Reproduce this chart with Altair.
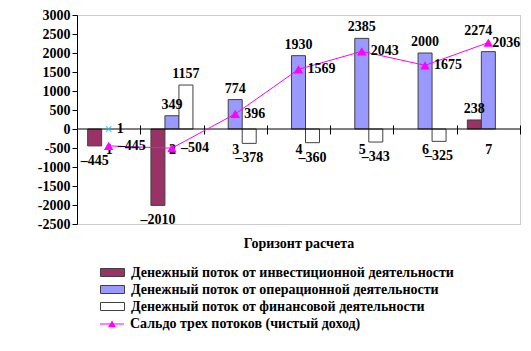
import altair as alt
import pandas as pd

periods = ["1", "2", "3", "4", "5", "6", "7"]
invest = [-445, -2010, 0, 0, 0, 0, 238]
operating = [0, 349, 774, 1930, 2385, 2000, 2036]
financing = [0, 1157, -378, -360, -343, -325, 0]
net = [-445, -504, 396, 1569, 2043, 1675, 2274]
marker_period = ["1"]
marker_value = [0]
marker_text = ["1"]
y_ticks = [-2500, -2000, -1500, -1000, -500, 0, 500, 1000, 1500, 2000, 2500, 3000]

s_inv = "Денежный поток от инвестиционной деятельности"
s_op = "Денежный поток от операционной деятельности"
s_fin = "Денежный поток от финансовой деятельности"
s_net = "Сальдо трех потоков (чистый доход)"
bar_series = [s_inv, s_op, s_fin]
bar_colors = ["#993366", "#9999FF", "#FFFFFF"]
net_color = "#FF00FF"

FONT = "Liberation Serif, DejaVu Serif, serif"


def lab(v):
    return ("–" + str(-v)) if v < 0 else str(v)


rows = []
for i, p in enumerate(periods):
    for s, vals in zip(bar_series, [invest, operating, financing]):
        if vals[i] != 0:
            rows.append({"period": p, "series": s, "value": vals[i], "label": lab(vals[i])})
bars_df = pd.DataFrame(rows)
net_df = pd.DataFrame({"period": periods, "value": net, "label": [lab(v) for v in net],
                       "series": [s_net] * len(periods)})
mark_df = pd.DataFrame({"period": marker_period, "value": marker_value, "label": marker_text})

x_scale = alt.Scale(domain=periods, paddingInner=0, paddingOuter=0)
y_scale = alt.Scale(domain=[-2500, 3000], nice=False, zero=False)
off_scale = alt.Scale(domain=bar_series, paddingOuter=0.76, paddingInner=0)

x_axis = alt.Axis(title="Горизонт расчета", labelAngle=0, offset=-99, tickBand="extent",
                  tickSize=9, domain=False, labelPadding=8, tickColor="#000000",
                  labelFont=FONT, labelFontSize=14, labelFontWeight="bold", labelColor="#000",
                  titleFont=FONT, titleFontSize=14, titleFontWeight="bold", titleColor="#000",
                  titlePadding=80)
y_axis = alt.Axis(values=y_ticks, title=None, grid=False, tickSize=5, labelPadding=2,
                  domainColor="#000", tickColor="#000", labelFont=FONT, labelFontSize=14,
                  labelFontWeight="bold", labelColor="#000", format="d",
                  labelExpr="replace(datum.label, '−', '-')")

X = alt.X("period:N", scale=x_scale, axis=x_axis, sort=periods)
Y = alt.Y("value:Q", scale=y_scale, axis=y_axis)
XO = alt.XOffset("series:N", scale=off_scale, sort=bar_series)

bars = alt.Chart(bars_df).mark_bar(stroke="#404040", strokeWidth=1).encode(
    x=X, y=Y, xOffset=XO,
    fill=alt.Fill("series:N", sort=bar_series,
                  scale=alt.Scale(domain=bar_series, range=bar_colors),
                  legend=alt.Legend(title=None, orient="none", legendX=27, legendY=249,
                                    symbolType="M-1.5,-0.5H1.5V0.5H-1.5Z", symbolSize=256,
                                    symbolStrokeColor="#404040", symbolStrokeWidth=1,
                                    labelFont=FONT, labelFontSize=14, labelFontWeight="bold",
                                    labelColor="#000", labelLimit=0, labelOffset=10,
                                    rowPadding=1, padding=0)),
)

zero = alt.Chart(pd.DataFrame({"value": [0]})).mark_rule(color="#000", strokeWidth=1).encode(y=Y)

txt = dict(font=FONT, fontSize=14, fontWeight="bold", color="#000")

pos_lab = alt.Chart(bars_df).transform_filter(
    "datum.value > 0 && !(datum.period == '7' && datum.series == '%s')" % s_op
).mark_text(baseline="bottom", dy=-4, **txt).encode(x=X, y=Y, xOffset=XO, text="label:N")
neg_lab = alt.Chart(bars_df).transform_filter("datum.value < 0").mark_text(
    baseline="top", dy=8, **txt).encode(x=X, y=Y, xOffset=XO, text="label:N")
op7_lab = alt.Chart(bars_df).transform_filter(
    "datum.period == '7' && datum.series == '%s'" % s_op
).mark_text(baseline="middle", align="left", dx=4, dy=-9, **txt).encode(
    x=X, y=Y, xOffset=XO, text="label:N")

line = alt.Chart(net_df).mark_line(color=net_color, strokeWidth=1).encode(x=X, y=Y)
pts = alt.Chart(net_df).mark_point(shape="triangle-up", filled=True, size=90, opacity=1).encode(
    x=X, y=Y,
    fill=alt.Fill("series:N", scale=alt.Scale(domain=[s_net], range=[net_color]),
                  legend=alt.Legend(title=None, orient="none", legendX=27, legendY=301,
                                    symbolType="M-1.5,-0.07H1.5V0.07H-1.5Z M-0.5,0.4L0,-0.45L0.5,0.4Z",
                                    symbolSize=256, symbolStrokeWidth=0,
                                    labelFont=FONT, labelFontSize=14, labelFontWeight="bold",
                                    labelColor="#000", labelLimit=0, labelOffset=10, padding=0)),
)
net_lab = alt.Chart(net_df).transform_filter("datum.period != '7'").mark_text(
    align="left", baseline="middle", dx=9, **txt).encode(x=X, y=Y, text="label:N")
net7_lab = alt.Chart(net_df).transform_filter("datum.period == '7'").mark_text(
    align="right", baseline="middle", dx=4, dy=-12, **txt).encode(x=X, y=Y, text="label:N")

cross = alt.Chart(mark_df).mark_point(shape="M-1,-1L1,1M1,-1L-1,1", filled=False,
                                      color="#00CCFF", size=30, strokeWidth=1.2).encode(x=X, y=Y)
cross_lab = alt.Chart(mark_df).mark_text(align="left", baseline="middle", dx=8, **txt).encode(
    x=X, y=Y, text="label:N")

chart = alt.layer(
    bars, zero, line, pts, pos_lab, neg_lab, op7_lab, net_lab, net7_lab, cross, cross_lab
).resolve_scale(fill="independent").properties(
    width=443, height=209,
    autosize=alt.AutoSizeParams(type="none"),
    padding={"left": 77, "top": 15, "right": 11, "bottom": 127},
    background="#FFFFFF",
).configure_view(stroke="#999999", strokeDash=[1, 1], strokeWidth=1)

chart.save("out.html", embed_options={"renderer": "svg", "actions": False})
